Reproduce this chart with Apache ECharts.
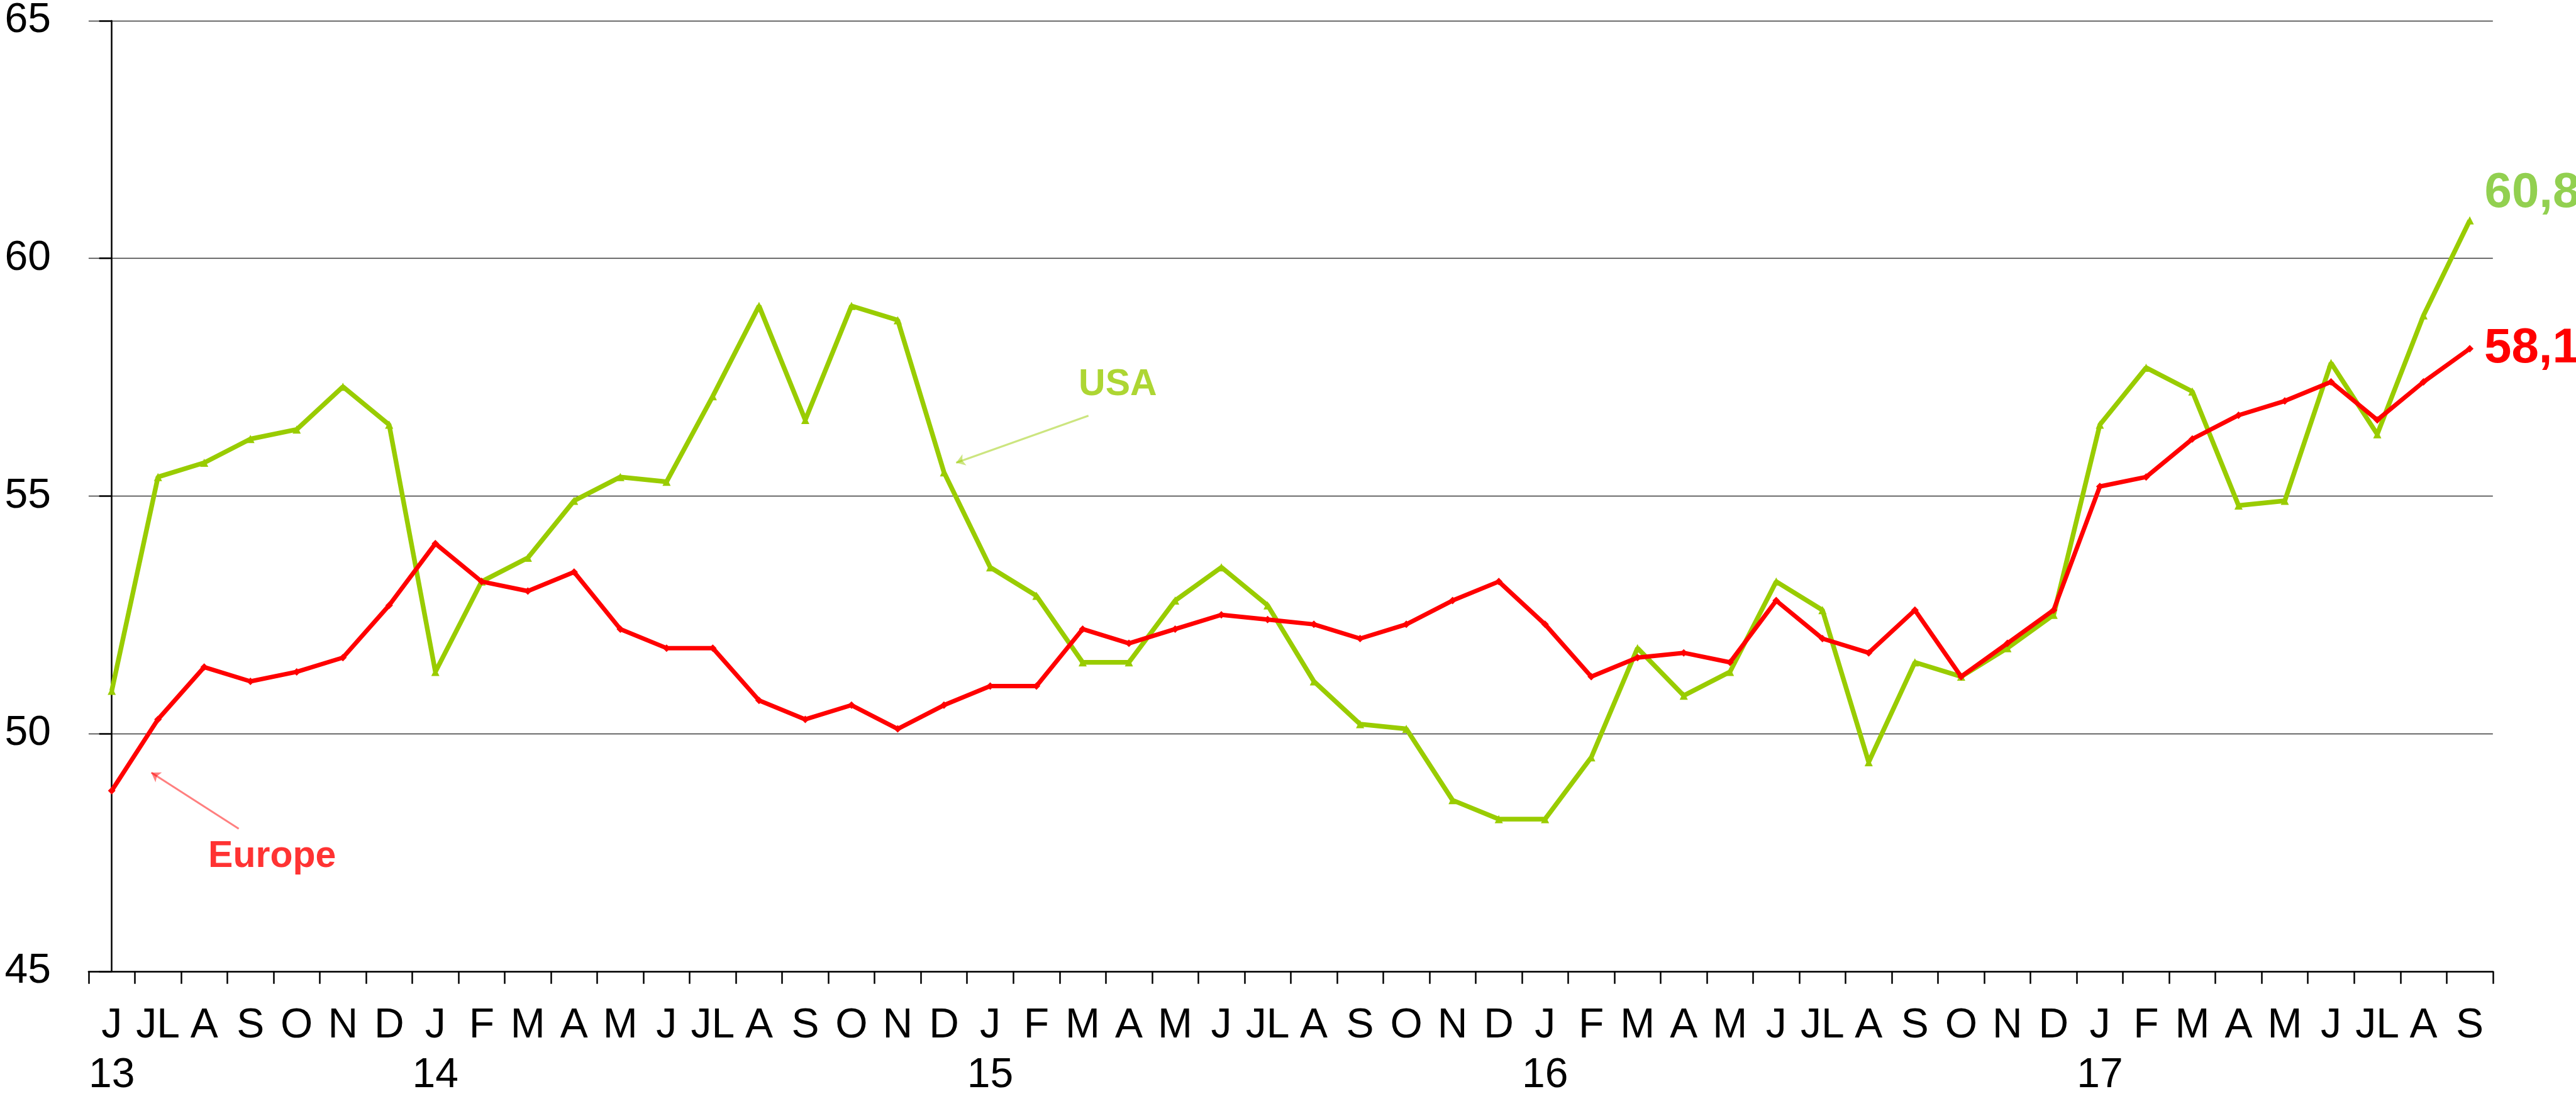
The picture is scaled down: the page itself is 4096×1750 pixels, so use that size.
<!DOCTYPE html>
<html>
<head>
<meta charset="utf-8">
<script src="https://cdn.jsdelivr.net/npm/echarts@6/dist/echarts.min.js"></script>
<style>
html,body{margin:0;padding:0;background:#fff;}
#chart{width:4096px;height:1750px;}
</style>
</head>
<body>
<div id="chart"></div>
<script>
// Month tick labels (June 2013 .. September 2017)
const monthLabels = [
  'J','JL','A','S','O','N','D',
  'J','F','M','A','M','J','JL','A','S','O','N','D',
  'J','F','M','A','M','J','JL','A','S','O','N','D',
  'J','F','M','A','M','J','JL','A','S','O','N','D',
  'J','F','M','A','M','J','JL','A','S'
];
// Year tick labels (second line)
const yearLabels = [
  '13','','','','','','',
  '14','','','','','','','','','','','',
  '15','','','','','','','','','','','',
  '16','','','','','','','','','','','',
  '17','','','','','','','',''
];
const usaValues = [
  50.9, 55.4, 55.7, 56.2, 56.4, 57.3, 56.5,
  51.3, 53.2, 53.7, 54.9, 55.4, 55.3, 57.1, 59.0, 56.6, 59.0, 58.7, 55.5,
  53.5, 52.9, 51.5, 51.5, 52.8, 53.5, 52.7, 51.1, 50.2, 50.1, 48.6, 48.2,
  48.2, 49.5, 51.8, 50.8, 51.3, 53.2, 52.6, 49.4, 51.5, 51.2, 51.8, 52.5,
  56.5, 57.7, 57.2, 54.8, 54.9, 57.8, 56.3, 58.8, 60.8
];
const europeValues = [
  48.8, 50.3, 51.4, 51.1, 51.3, 51.6, 52.7,
  54.0, 53.2, 53.0, 53.4, 52.2, 51.8, 51.8, 50.7, 50.3, 50.6, 50.1, 50.6,
  51.0, 51.0, 52.2, 51.9, 52.2, 52.5, 52.4, 52.3, 52.0, 52.3, 52.8, 53.2,
  52.3, 51.2, 51.6, 51.7, 51.5, 52.8, 52.0, 51.7, 52.6, 51.2, 51.9, 52.6,
  55.2, 55.4, 56.2, 56.7, 57.0, 57.4, 56.6, 57.4, 58.1
];
const seriesNames = ['USA', 'Europe'];

const FONT = '"Liberation Sans", Arial, sans-serif';
const GREEN = '#99CC00';
const GREEN_LABEL = '#92D050';
const RED = '#FF0000';
const n = monthLabels.length;
const categories = monthLabels.map((m, i) => String(i));
const fmt = v => v.toFixed(1).replace('.', ',');

function withEndLabel(values, color, offset) {
  return values.map((v, i) => i === values.length - 1 ? {
    value: v,
    label: {
      show: true, position: 'right', distance: 17, offset: offset,
      formatter: p => fmt(p.value),
      color: color, fontFamily: FONT, fontWeight: 'bold', fontSize: 78
    }
  } : v);
}

const chart = echarts.init(document.getElementById('chart'), null, {renderer: 'canvas'});
chart.setOption({
  animation: false,
  backgroundColor: '#ffffff',
  grid: {left: 140.9, right: 132.2, top: 32, bottom: 189.4, containLabel: false},
  xAxis: [{
    type: 'category',
    data: categories,
    boundaryGap: true,
    axisLine: {show: true, lineStyle: {color: '#000', width: 2.5}},
    axisTick: {show: true, interval: 0, length: 20, lineStyle: {color: '#000', width: 2.5}},
    axisLabel: {
      interval: 0, margin: 47, color: '#000', fontFamily: FONT, fontSize: 66, lineHeight: 79.6,
      formatter: (v, idx) => monthLabels[idx] + (yearLabels[idx] ? '\n' + yearLabels[idx] : '')
    },
    splitLine: {show: false}
  }, {
    type: 'value', min: -0.5, max: n - 0.5, show: false
  }],
  yAxis: {
    type: 'value', min: 45, max: 65, interval: 5,
    axisLine: {show: true, lineStyle: {color: '#000', width: 2.5}},
    axisTick: {show: true, length: 20, lineStyle: {color: '#000', width: 2.5}},
    axisLabel: {margin: 60, color: '#000', fontFamily: FONT, fontSize: 66},
    splitLine: {show: true, lineStyle: {color: '#3a3a3a', width: 1.4}}
  },
  series: [{
    name: seriesNames[0], type: 'line', xAxisIndex: 0,
    data: withEndLabel(usaValues, GREEN_LABEL, [0, -43]),
    symbol: 'triangle', symbolSize: 13, showAllSymbol: true,
    lineStyle: {color: GREEN, width: 7.5},
    itemStyle: {color: GREEN},
    z: 3
  }, {
    name: seriesNames[1], type: 'line', xAxisIndex: 0,
    data: withEndLabel(europeValues, RED, [0, 0]),
    symbol: 'diamond', symbolSize: 12, showAllSymbol: true,
    lineStyle: {color: RED, width: 7},
    itemStyle: {color: RED},
    z: 4
  }, {
    type: 'lines', coordinateSystem: 'cartesian2d', xAxisIndex: 1, yAxisIndex: 0,
    silent: true, z: 5,
    symbol: ['none', 'arrow'], symbolSize: 14,
    data: [
      {coords: [[2.747, 48.0], [0.856, 49.18]], lineStyle: {color: RED, width: 3}},
      {coords: [[21.125, 56.69], [18.263, 55.70]], lineStyle: {color: GREEN, width: 3}}
    ]
  }, {
    type: 'scatter', xAxisIndex: 1, yAxisIndex: 0, silent: true, z: 5,
    symbolSize: 1, itemStyle: {color: 'rgba(0,0,0,0)'},
    label: {show: true, position: 'inside', fontFamily: FONT, fontWeight: 'bold', fontSize: 59,
      formatter: p => p.name},
    data: [
      {name: seriesNames[1], value: [3.469, 47.41], label: {color: RED}},
      {name: seriesNames[0], value: [21.76, 57.34], label: {color: GREEN}}
    ]
  }]
});
</script>
</body>
</html>
